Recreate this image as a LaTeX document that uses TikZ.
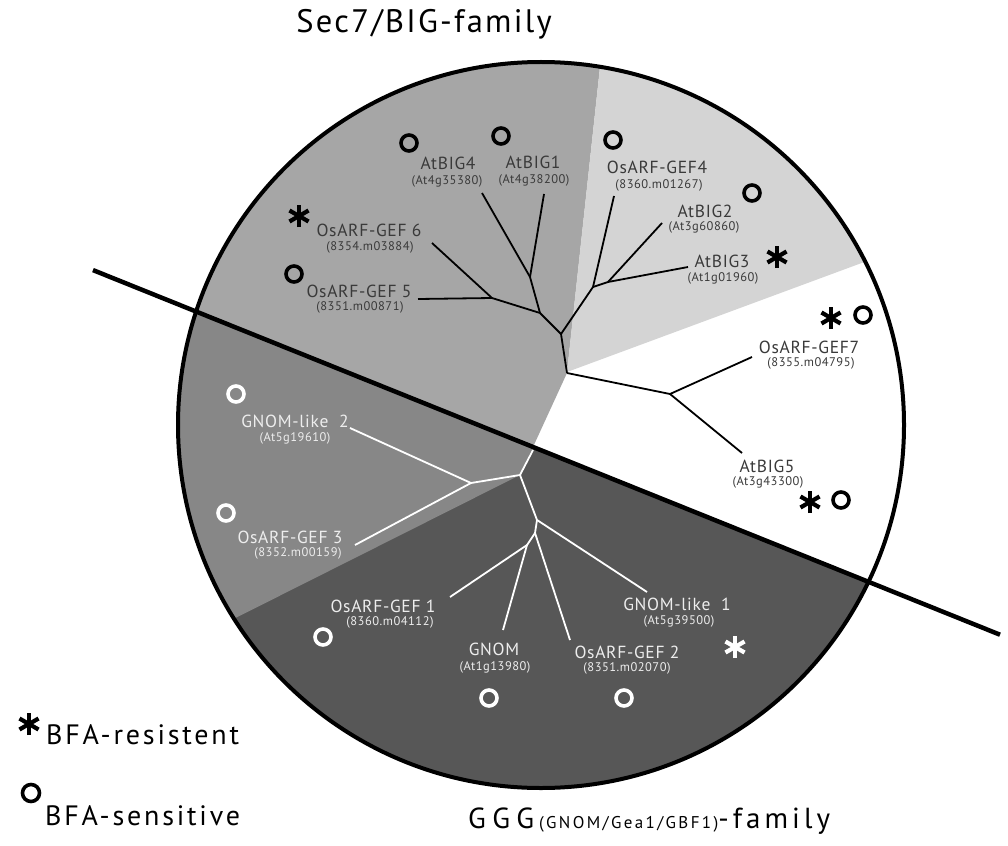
\documentclass[tikz,border=0pt]{standalone}
\usepackage{fontspec}
\setmainfont{PT Sans}
\newfontfamily\labfont[LetterSpace=4]{PT Sans}
\newfontfamily\legfont[LetterSpace=10]{PT Sans}
\newfontfamily\ttlfont[LetterSpace=7]{PT Sans}
\newfontfamily\gggfont[LetterSpace=22]{PT Sans}
\newfontfamily\botfont[LetterSpace=14]{PT Sans}
\definecolor{gA}{HTML}{A6A6A6}
\definecolor{gB}{HTML}{D4D4D4}
\definecolor{gC}{HTML}{878787}
\definecolor{gD}{HTML}{575757}
\definecolor{txtdark}{HTML}{3A3A3A}
\definecolor{txtlight}{HTML}{EDEDED}
\begin{document}
\begin{tikzpicture}[x=1pt,y=-1pt,
  nm/.style={anchor=base, inner sep=0, font=\fontsize{17.5}{17.5}\selectfont\labfont},
  ac/.style={anchor=base, inner sep=0, font=\fontsize{12.5}{12.5}\selectfont\labfont},
  up/.style={text=txtdark},
  lo/.style={text=txtlight},
  bring/.style={circle, draw=black, line width=3.6pt, minimum size=16pt, inner sep=0},
  wring/.style={circle, draw=white, line width=3.6pt, minimum size=16pt, inner sep=0},
  astk/.style={minimum size=28pt, inner sep=0, path picture={
     \foreach \a in {90,30,150}{
       \draw[line width=4.2pt, draw=#1] ([shift={(\a:11)}]path picture bounding box.center) -- ([shift={(\a+180:11)}]path picture bounding box.center);}}},
  btree/.style={draw=black, line width=1.8pt, line join=round},
  wtree/.style={draw=white, line width=1.8pt, line join=round},
]
\useasboundingbox (0,0) rectangle (1008,845);
\coordinate (O) at (541,425);
% sectors
\begin{scope}
\clip (O) circle[radius=363];
\fill[white] (0,0) rectangle (1008,845);
\fill[gA] (604,30) -- (567,373) -- (533,447) -- (0,232.7) -- (0,30) -- cycle;
\fill[gB] (604,30) -- (567,372) -- (940,234) -- (940,30) -- cycle;
\fill[gD] (0,232.7) -- (1008,638) -- (1008,845) -- (0,845) -- cycle;
\fill[gC] (533,447) -- (520,475) -- (130,671) -- (0,671) -- (0,232.7) -- cycle;
\end{scope}
\draw[line width=4pt] (O) circle[radius=363];
\coordinate (dl) at (93,270.1);
\coordinate (dr) at (1000,634.7);
\draw[line width=4.5pt] (dl) -- (dr);

% upper tree (black)
\coordinate (E) at (567,373);
\coordinate (C) at (561,334);
\coordinate (A) at (593,287);
\coordinate (B) at (608,282);
\coordinate (D) at (540,313);
\coordinate (N) at (492,298);
\coordinate (Oo) at (530,277);
\coordinate (F) at (670,394);
\coordinate (gef4e) at (614,196);
\coordinate (big2e) at (662,223);
\coordinate (big3e) at (688,267);
\coordinate (gef7e) at (752,357);
\coordinate (big5e) at (742,453);
\coordinate (gef5e) at (418,299);
\coordinate (gef6e) at (432,243);
\coordinate (big4e) at (482,193);
\coordinate (big1e) at (544,194);
\draw[btree] (E) -- (C) -- (A) -- (gef4e);
\draw[btree] (A) -- (B) -- (big2e);
\draw[btree] (B) -- (big3e);
\draw[btree] (C) -- (D) -- (N) -- (gef5e);
\draw[btree] (N) -- (gef6e);
\draw[btree] (D) -- (Oo) -- (big4e);
\draw[btree] (Oo) -- (big1e);
\draw[btree] (E) -- (F) -- (gef7e);
\draw[btree] (F) -- (big5e);

% lower tree (white)
\coordinate (Hs) at (533,450);
\coordinate (H) at (520,475);
\coordinate (I) at (471,483);
\coordinate (K) at (537,520);
\coordinate (L) at (535,533);
\coordinate (M) at (527,545);
\coordinate (gnl2e) at (350,428);
\coordinate (gef3e) at (355,545);
\coordinate (gnl1e) at (647,592);
\coordinate (gef2e) at (570,640);
\coordinate (gef1e) at (450,597);
\coordinate (gnome) at (503,630);
\draw[wtree] (Hs) -- (H) -- (I) -- (gnl2e);
\draw[wtree] (I) -- (gef3e);
\draw[wtree] (H) -- (K) -- (gnl1e);
\draw[wtree] (K) -- (L) -- (gef2e);
\draw[wtree] (L) -- (M) -- (gef1e);
\draw[wtree] (M) -- (gnome);

% labels upper
\node[nm,up] (big4) at (448,170) {AtBIG4};
\node[ac,up] (big4a) at (447,185) {(At4g35380)};
\node[nm,up] (big1) at (533,168) {AtBIG1};
\node[ac,up] (big1a) at (534,183) {(At4g38200)};
\node[nm,up] (gef6) at (369,236) {OsARF-GEF 6};
\node[ac,up] (gef6a) at (370,250) {(8354.m03884)};
\node[nm,up] (gef5) at (359,297) {OsARF-GEF 5};
\node[ac,up] (gef5a) at (360,310) {(8351.m00871)};
\node[nm,up] (gef4) at (657,173) {OsARF-GEF4};
\node[ac,up] (gef4a) at (659,188) {(8360.m01267)};
\node[nm,up] (big2) at (705,217) {AtBIG2};
\node[ac,up] (big2a) at (704,230) {(At3g60860)};
\node[nm,up] (big3) at (722,267) {AtBIG3};
\node[ac,up] (big3a) at (723,281) {(At1g01960)};
\node[nm,up] (gef7) at (809,353) {OsARF-GEF7};
\node[ac,up] (gef7a) at (811,366) {(8355.m04795)};
\node[nm,up] (big5) at (767,472) {AtBIG5};
\node[ac,up] (big5a) at (768,485) {(At3g43300)};
% labels lower
\node[nm,lo] (gnl2) at (295,427) {GNOM-like\ \ 2};
\node[ac,lo] (gnl2a) at (295,441) {(At5g19610)};
\node[nm,lo] (gef3) at (290,543) {OsARF-GEF 3};
\node[ac,lo] (gef3a) at (298,556) {(8352.m00159)};
\node[nm,lo] (gef1) at (383,612) {OsARF-GEF 1};
\node[ac,lo] (gef1a) at (390,625) {(8360.m04112)};
\node[nm,lo] (gnom) at (494,655) {GNOM};
\node[ac,lo] (gnoma) at (495,670) {(At1g13980)};
\node[nm,lo] (gef2) at (627,658) {OsARF-GEF 2};
\node[ac,lo] (gef2a) at (627,671) {(8351.m02070)};
\node[nm,lo] (gnl1) at (677,610) {GNOM-like\ \ 1};
\node[ac,lo] (gnl1a) at (679,624) {(At5g39500)};

% markers
\node[bring] (r1) at (409,143) {};
\node[bring] (r2) at (501,136) {};
\node[bring] (r3) at (294,274) {};
\node[bring] (r4) at (613,140) {};
\node[bring] (r5) at (752,193) {};
\node[bring] (r6) at (863,315) {};
\node[bring] (r7) at (841,500) {};
\node[wring] (w1) at (236,394) {};
\node[wring] (w2) at (226,513) {};
\node[wring] (w3) at (323,637) {};
\node[wring] (w4) at (489,698) {};
\node[wring] (w5) at (624,698) {};
\node[astk=black] (s1) at (299,216) {};
\node[astk=black] (s2) at (777,257) {};
\node[astk=black] (s3) at (831,318) {};
\node[astk=black] (s4) at (810,502) {};
\node[astk=white] (s5) at (735,647) {};

% titles
\node[anchor=base east, inner sep=0, font=\fontsize{32.5}{32.5}\selectfont\ttlfont] (top) at (552,33) {Sec7/BIG-family};
\node[anchor=base west, inner sep=0, font=\fontsize{29}{29}\selectfont\botfont] (bot) at (468,828) {{\gggfont GGG}\,{\fontsize{17}{17}\selectfont(GNOM/Gea1/GBF1)}-family};

% legend
\node[astk=black, minimum size=30pt] (ls) at (29,724) {};
\node[anchor=base west, inner sep=0, font=\fontsize{28}{28}\selectfont\legfont] (lt1) at (46,744) {BFA-resistent};
\node[bring, minimum size=17pt] (lr) at (31,793) {};
\node[anchor=base west, inner sep=0, font=\fontsize{28}{28}\selectfont\legfont] (lt2) at (45,825) {BFA-sensitive};
\end{tikzpicture}
\end{document}
